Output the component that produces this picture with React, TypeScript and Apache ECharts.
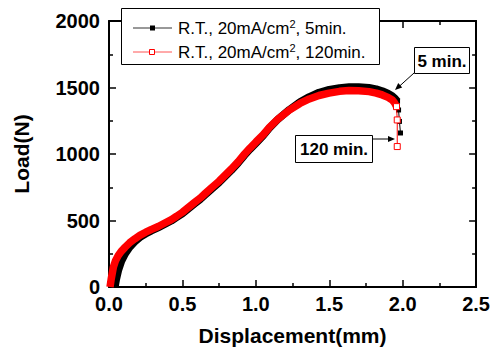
import React, { useEffect, useRef } from "react";
import * as echarts from "echarts";

// Displacement (mm) / Load (N)
const blackDisp = [0.04, 0.05, 0.065, 0.085, 0.11, 0.14, 0.176, 0.21, 0.25, 0.29, 0.335, 0.38, 0.425, 0.46, 0.5, 0.54, 0.584, 0.62, 0.652, 0.7, 0.749, 0.79, 0.833, 0.88, 0.923, 0.96, 1.0, 1.05, 1.092, 1.15, 1.228, 1.3, 1.364, 1.43, 1.499, 1.57, 1.635, 1.7, 1.771, 1.82, 1.861, 1.9, 1.929, 1.95, 1.965];
const blackLoad = [0, 60, 130, 195, 250, 298, 340, 373, 400, 424, 447, 472, 498, 523, 552, 588, 627, 658, 690, 738, 785, 830, 877, 933, 990, 1035, 1080, 1138, 1195, 1260, 1333, 1390, 1430, 1462, 1484, 1497, 1503, 1504, 1498, 1488, 1474, 1455, 1436, 1415, 1395];
const blackTailDisp = [1.965, 1.972, 1.978, 1.985];
const blackTailLoad = [1395, 1331, 1245, 1158];

const redDisp = [0.007, 0.015, 0.03, 0.045, 0.063, 0.085, 0.11, 0.14, 0.176, 0.21, 0.25, 0.29, 0.335, 0.38, 0.425, 0.46, 0.5, 0.54, 0.584, 0.62, 0.652, 0.7, 0.749, 0.79, 0.833, 0.88, 0.923, 0.96, 1.0, 1.05, 1.092, 1.15, 1.228, 1.3, 1.364, 1.43, 1.499, 1.57, 1.635, 1.7, 1.771, 1.82, 1.861, 1.9, 1.929, 1.945, 1.958];
const redLoad = [0, 60, 150, 200, 237, 270, 300, 332, 362, 388, 412, 433, 455, 481, 507, 532, 562, 598, 637, 668, 700, 748, 795, 840, 887, 943, 1000, 1045, 1090, 1145, 1200, 1262, 1330, 1380, 1414, 1440, 1458, 1471, 1477, 1476, 1469, 1458, 1444, 1426, 1406, 1385, 1356];
const redTailDisp = [1.958, 1.963, 1.963];
const redTailLoad = [1356, 1256, 1056];

const seriesNames = ["R.T., 20mA/cm{sup|2}, 5min.", "R.T., 20mA/cm{sup|2}, 120min."];
const xTicks = { min: 0, max: 2.5, interval: 0.5 };
const yTicks = { min: 0, max: 2000, interval: 500 };

const FONT = "'Liberation Sans', Arial, sans-serif";

const zip = (a: number[], b: number[]) => a.map((v, i) => [v, b[i]]);

function arrowHead(x1: number, y1: number, x2: number, y2: number, len = 7, half = 3) {
  const dx = x2 - x1, dy = y2 - y1;
  const l = Math.sqrt(dx * dx + dy * dy);
  const ux = dx / l, uy = dy / l;
  const bx = x2 - ux * len, by = y2 - uy * len;
  return [[x2, y2], [bx - uy * half, by + ux * half], [bx + uy * half, by - ux * half]];
}

export default function App() {
  const ref = useRef<HTMLDivElement>(null);
  useEffect(() => {
    if (!ref.current) return;
    const chart = echarts.init(ref.current, undefined, { renderer: "svg" });
    const axisLine = { onZero: false, lineStyle: { color: "#000", width: 2 } };
    const axisTick = { inside: true, length: 7, lineStyle: { color: "#000", width: 1.5 } };
    const minorTick = { show: true, splitNumber: 2, length: 4, lineStyle: { color: "#000", width: 1.5 } };
    const labelStyle = { fontSize: 20, fontWeight: "bold" as const, fontFamily: FONT, color: "#000" };
    const nameStyle = { fontSize: 21, fontWeight: "bold" as const, fontFamily: FONT, color: "#000" };

    const a1 = arrowHead(414, 73, 395, 90);
    const a2 = arrowHead(373, 139, 395, 139);

    chart.setOption({
      animation: false,
      backgroundColor: "#fff",
      grid: { left: 109, right: 16, top: 21, bottom: 64 },
      xAxis: [
        {
          type: "value", ...xTicks, position: "bottom",
          axisLine, axisTick, minorTick, splitLine: { show: false },
          axisLabel: { ...labelStyle, margin: 7, formatter: (v: number) => v.toFixed(1) },
          name: "Displacement(mm)", nameLocation: "middle", nameGap: 38, nameTextStyle: nameStyle,
        },
        {
          type: "value", ...xTicks, position: "top",
          axisLine, axisTick, minorTick, splitLine: { show: false }, axisLabel: { show: false },
        },
      ],
      yAxis: [
        {
          type: "value", ...yTicks, position: "left",
          axisLine, axisTick, minorTick, splitLine: { show: false },
          axisLabel: { ...labelStyle, margin: 9, formatter: (v: number) => String(v) },
          name: "Load(N)", nameLocation: "middle", nameGap: 77, nameTextStyle: nameStyle,
        },
        {
          type: "value", ...yTicks, position: "right",
          axisLine, axisTick, minorTick, splitLine: { show: false }, axisLabel: { show: false },
        },
      ],
      legend: { show: false },
      series: [
        {
          type: "line", name: "5min", data: zip(blackDisp, blackLoad), showSymbol: false, symbol: "none",
          lineStyle: { color: "#000", width: 7.5 }, z: 2,
        },
        {
          type: "line", name: "5min tail", data: zip(blackTailDisp, blackTailLoad), symbol: "rect", symbolSize: 5,
          itemStyle: { color: "#000" }, lineStyle: { color: "#000", width: 1 }, z: 2,
        },
        {
          type: "line", name: "120min", data: zip(redDisp, redLoad), showSymbol: false, symbol: "none",
          lineStyle: { color: "#ff0000", width: 7.5 }, z: 3,
        },
        {
          type: "line", name: "120min tail", data: zip(redTailDisp, redTailLoad), symbol: "rect", symbolSize: 6,
          itemStyle: { color: "#fff", borderColor: "#ff0000", borderWidth: 1 }, lineStyle: { color: "#ff0000", width: 1 }, z: 4,
        },
      ],
      graphic: [
        // legend
        { type: "rect", shape: { x: 121.5, y: 8.5, width: 258, height: 56 }, style: { fill: "#fff", stroke: "#000", lineWidth: 1 }, z: 100 },
        { type: "line", shape: { x1: 133, y1: 28, x2: 172, y2: 28 }, style: { stroke: "#333", lineWidth: 1 }, z: 101 },
        { type: "rect", shape: { x: 150, y: 25.5, width: 5, height: 5 }, style: { fill: "#000" }, z: 102 },
        { type: "line", shape: { x1: 133, y1: 52, x2: 172, y2: 52 }, style: { stroke: "#ff5555", lineWidth: 1 }, z: 101 },
        { type: "rect", shape: { x: 149.5, y: 49.5, width: 5, height: 5 }, style: { fill: "#fff", stroke: "#ff0000", lineWidth: 1 }, z: 102 },
        {
          type: "text", x: 178, y: 28, z: 102,
          style: {
            text: seriesNames[0], fill: "#000", fontSize: 17, fontFamily: FONT, textVerticalAlign: "middle",
            lineHeight: 20, rich: { sup: { fontSize: 11, fontFamily: FONT, verticalAlign: "top", lineHeight: 11, fill: "#000" } },
          },
        },
        {
          type: "text", x: 178, y: 52, z: 102,
          style: {
            text: seriesNames[1], fill: "#000", fontSize: 17, fontFamily: FONT, textVerticalAlign: "middle",
            lineHeight: 20, rich: { sup: { fontSize: 11, fontFamily: FONT, verticalAlign: "top", lineHeight: 11, fill: "#000" } },
          },
        },
        // 5 min. annotation
        { type: "rect", shape: { x: 414.5, y: 47.5, width: 55, height: 26 }, style: { fill: "#fff", stroke: "#000", lineWidth: 1 }, z: 100 },
        { type: "text", x: 442, y: 61, z: 101, style: { text: "5 min.", fill: "#000", fontSize: 17, fontWeight: "bold", fontFamily: FONT, textAlign: "center", textVerticalAlign: "middle" } },
        { type: "line", shape: { x1: 414, y1: 73, x2: 398, y2: 87.5 }, style: { stroke: "#000", lineWidth: 1 }, z: 101 },
        { type: "polygon", shape: { points: a1 }, style: { fill: "#000" }, z: 101 },
        // 120 min. annotation
        { type: "rect", shape: { x: 295.5, y: 135.5, width: 77, height: 27 }, style: { fill: "#fff", stroke: "#000", lineWidth: 1 }, z: 100 },
        { type: "text", x: 334, y: 149.5, z: 101, style: { text: "120 min.", fill: "#000", fontSize: 17, fontWeight: "bold", fontFamily: FONT, textAlign: "center", textVerticalAlign: "middle" } },
        { type: "line", shape: { x1: 373, y1: 139, x2: 390, y2: 139 }, style: { stroke: "#000", lineWidth: 1 }, z: 101 },
        { type: "polygon", shape: { points: a2 }, style: { fill: "#000" }, z: 101 },
      ],
    });
    return () => chart.dispose();
  }, []);
  return <div ref={ref} style={{ position: "fixed", left: 0, top: 0, width: 493, height: 351 }} />;
}
